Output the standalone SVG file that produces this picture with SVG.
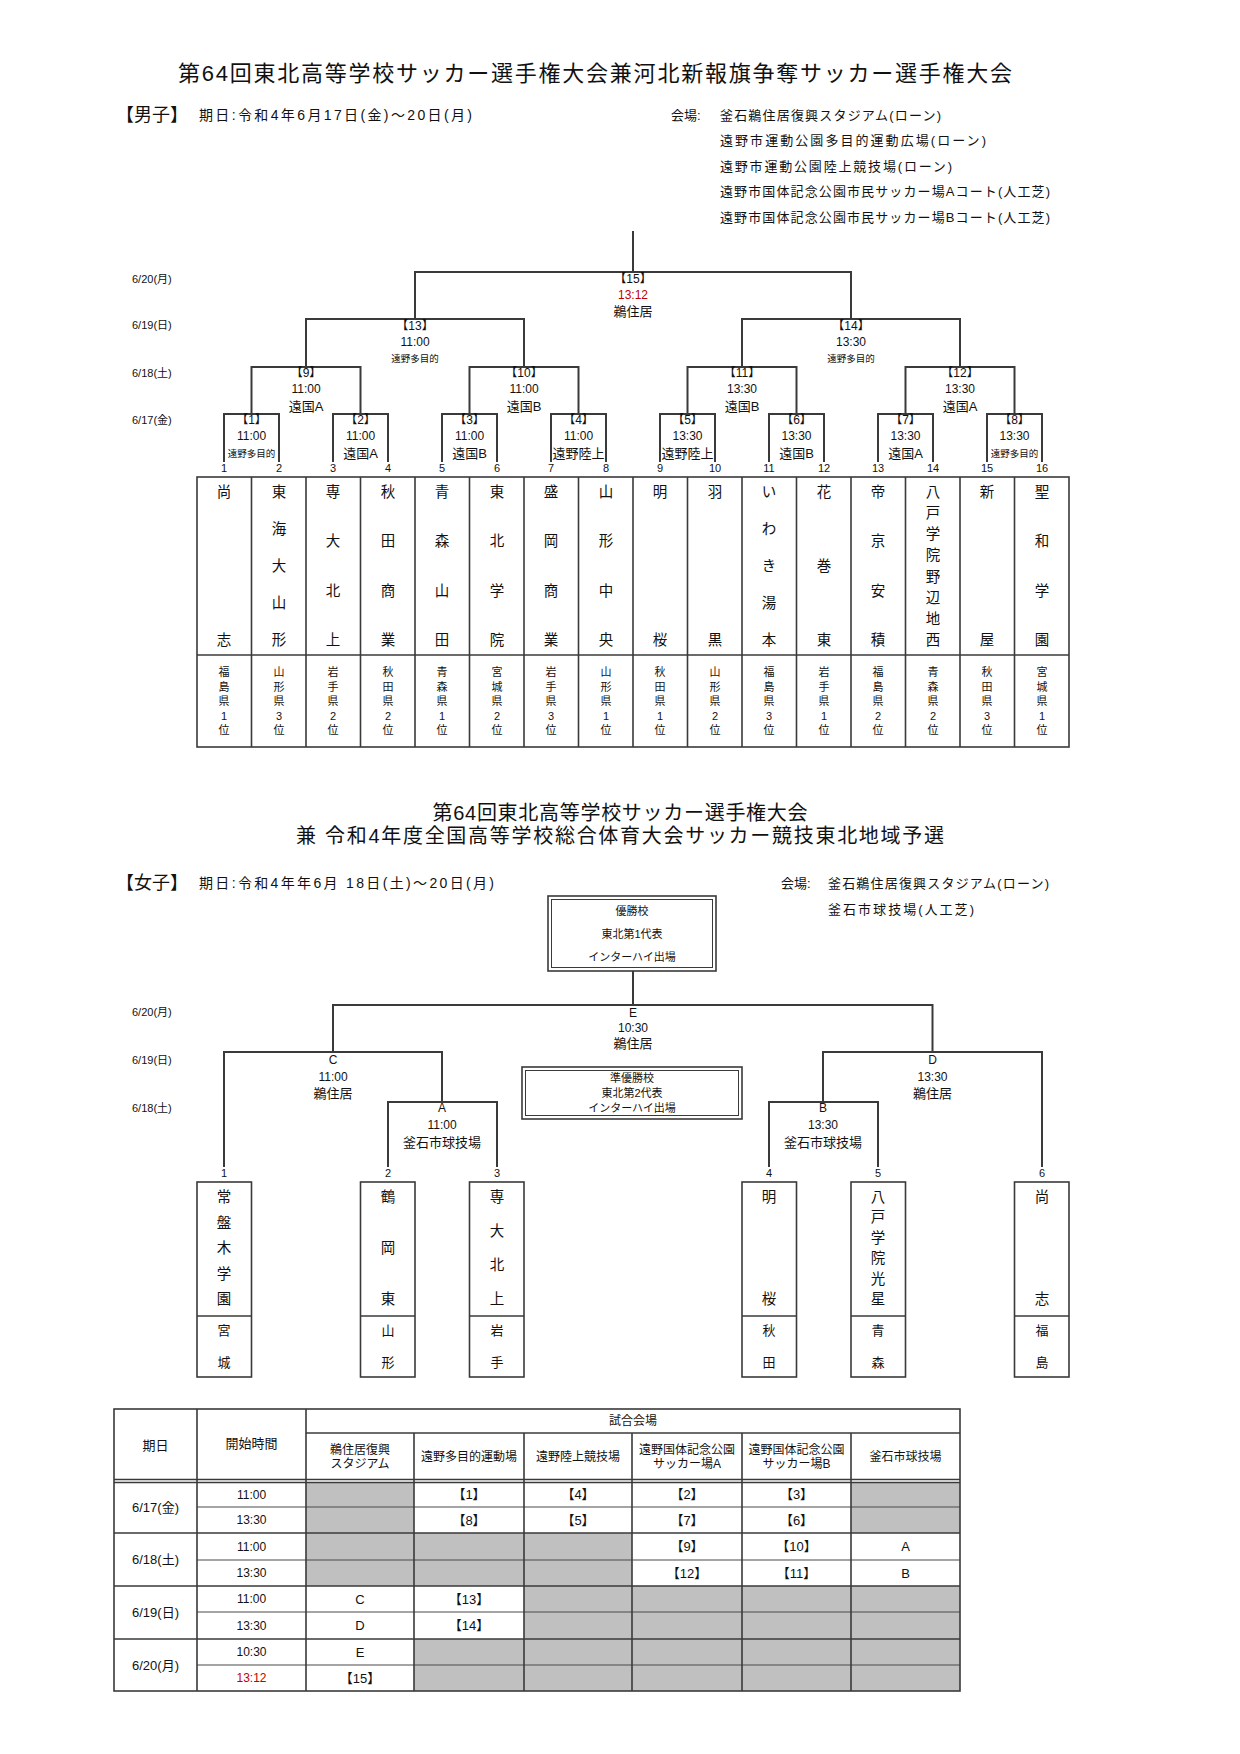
<svg xmlns="http://www.w3.org/2000/svg" width="1240" height="1754" viewBox="0 0 1240 1754">
<style>
text{font-family:"Liberation Sans","Noto Sans CJK JP",sans-serif;fill:#111;dominant-baseline:central}
.m{text-anchor:middle}
.f9{font-size:9.5px}
.f11{font-size:11px}
.f12{font-size:12px}
.f13{font-size:13px}
.f14{font-size:14px}
.tn{font-size:14.5px;text-anchor:middle}
.pf{font-size:11px;text-anchor:middle}
.red{fill:#c00000}
.ln{fill:none;stroke:#3a3a3a;stroke-width:2}
.bd{fill:none;stroke:#3a3a3a;stroke-width:1.6}
.th{fill:none;stroke:#4a4a4a;stroke-width:1.2}
.gy{fill:#c0c0c0}
</style>
<rect width="1240" height="1754" fill="#fff"/>

<!-- Men's header -->
<g id="header-men">
<text x="178" y="73" style="font-size:22px" textLength="834">第64回東北高等学校サッカー選手権大会兼河北新報旗争奪サッカー選手権大会</text>
<text x="116" y="115" style="font-size:18px">【男子】</text>
<text x="199" y="115" class="f14" textLength="273">期日:令和4年6月17日(金)～20日(月)</text>
<text x="671" y="115" class="f13">会場:</text>
<text x="720" y="115" class="f13" textLength="221">釜石鵜住居復興スタジアム(ローン)</text>
<text x="720" y="140.5" class="f13" textLength="266">遠野市運動公園多目的運動広場(ローン)</text>
<text x="720" y="166" class="f13" textLength="232">遠野市運動公園陸上競技場(ローン)</text>
<text x="720" y="191.5" class="f13" textLength="330">遠野市国体記念公園市民サッカー場Aコート(人工芝)</text>
<text x="720" y="217" class="f13" textLength="330">遠野市国体記念公園市民サッカー場Bコート(人工芝)</text>
</g>

<g id="dates-men" class="f11">
<text x="132" y="279">6/20(月)</text>
<text x="132" y="325">6/19(日)</text>
<text x="132" y="373">6/18(土)</text>
<text x="132" y="420">6/17(金)</text>
</g>

<!-- Men's connectors -->
<g id="connectors-men" class="ln">
<path d="M633 231V272"/>
<path d="M415 319V272H851V319"/>
<path d="M306 367V319H524V367"/>
<path d="M742 367V319H960V367"/>
<path d="M251.5 414V367H360.5V414"/>
<path d="M469.5 414V367H578.5V414"/>
<path d="M687.5 414V367H796.5V414"/>
<path d="M905.5 414V367H1014.5V414"/>
<path d="M224 462V414H279V462"/>
<path d="M333 462V414H388V462"/>
<path d="M442 462V414H497V462"/>
<path d="M551 462V414H606V462"/>
<path d="M660 462V414H715V462"/>
<path d="M769 462V414H824V462"/>
<path d="M878 462V414H933V462"/>
<path d="M987 462V414H1042V462"/>
</g>

<!-- Men's matches -->
<g id="match-15" class="m"><text x="633" y="279" class="f12">【15】</text><text x="633" y="295" class="f12 red">13:12</text><text x="633" y="311" class="f13">鵜住居</text></g>
<g id="match-13" class="m"><text x="415" y="326" class="f12">【13】</text><text x="415" y="342" class="f12">11:00</text><text x="415" y="358" class="f9">遠野多目的</text></g>
<g id="match-14" class="m"><text x="851" y="326" class="f12">【14】</text><text x="851" y="342" class="f12">13:30</text><text x="851" y="358" class="f9">遠野多目的</text></g>
<g id="match-9" class="m"><text x="306" y="373" class="f12">【9】</text><text x="306" y="389" class="f12">11:00</text><text x="306" y="406" class="f13">遠国A</text></g>
<g id="match-10" class="m"><text x="524" y="373" class="f12">【10】</text><text x="524" y="389" class="f12">11:00</text><text x="524" y="406" class="f13">遠国B</text></g>
<g id="match-11" class="m"><text x="742" y="373" class="f12">【11】</text><text x="742" y="389" class="f12">13:30</text><text x="742" y="406" class="f13">遠国B</text></g>
<g id="match-12" class="m"><text x="960" y="373" class="f12">【12】</text><text x="960" y="389" class="f12">13:30</text><text x="960" y="406" class="f13">遠国A</text></g>
<g id="match-1" class="m"><text x="251.5" y="420" class="f12">【1】</text><text x="251.5" y="436" class="f12">11:00</text><text x="251.5" y="453" class="f9">遠野多目的</text></g>
<g id="match-2" class="m"><text x="360.5" y="420" class="f12">【2】</text><text x="360.5" y="436" class="f12">11:00</text><text x="360.5" y="453" class="f13">遠国A</text></g>
<g id="match-3" class="m"><text x="469.5" y="420" class="f12">【3】</text><text x="469.5" y="436" class="f12">11:00</text><text x="469.5" y="453" class="f13">遠国B</text></g>
<g id="match-4" class="m"><text x="578.5" y="420" class="f12">【4】</text><text x="578.5" y="436" class="f12">11:00</text><text x="578.5" y="453" class="f13">遠野陸上</text></g>
<g id="match-5" class="m"><text x="687.5" y="420" class="f12">【5】</text><text x="687.5" y="436" class="f12">13:30</text><text x="687.5" y="453" class="f13">遠野陸上</text></g>
<g id="match-6" class="m"><text x="796.5" y="420" class="f12">【6】</text><text x="796.5" y="436" class="f12">13:30</text><text x="796.5" y="453" class="f13">遠国B</text></g>
<g id="match-7" class="m"><text x="905.5" y="420" class="f12">【7】</text><text x="905.5" y="436" class="f12">13:30</text><text x="905.5" y="453" class="f13">遠国A</text></g>
<g id="match-8" class="m"><text x="1014.5" y="420" class="f12">【8】</text><text x="1014.5" y="436" class="f12">13:30</text><text x="1014.5" y="453" class="f9">遠野多目的</text></g>

<!-- Men's slot numbers -->
<g id="slots-men" class="m f11">
<text x="224" y="468">1</text><text x="279" y="468">2</text><text x="333" y="468">3</text><text x="388" y="468">4</text>
<text x="442" y="468">5</text><text x="497" y="468">6</text><text x="551" y="468">7</text><text x="606" y="468">8</text>
<text x="660" y="468">9</text><text x="715" y="468">10</text><text x="769" y="468">11</text><text x="824" y="468">12</text>
<text x="878" y="468">13</text><text x="933" y="468">14</text><text x="987" y="468">15</text><text x="1042" y="468">16</text>
</g>

<!-- Men's team table grid -->
<g id="team-grid-men" class="bd">
<rect x="197" y="477" width="872" height="270"/>
<path d="M197 655H1069"/>
<path d="M251.5 477V747M306 477V747M360.5 477V747M415 477V747M469.5 477V747M524 477V747M578.5 477V747M633 477V747M687.5 477V747M742 477V747M796.5 477V747M851 477V747M905.5 477V747M960 477V747M1014.5 477V747"/>
</g>

<g id="team-m1"><text class="tn"><tspan x="224" y="492">尚</tspan><tspan x="224" y="640">志</tspan></text><text class="pf"><tspan x="224" y="672">福</tspan><tspan x="224" y="686.5">島</tspan><tspan x="224" y="701">県</tspan><tspan x="224" y="715.5">1</tspan><tspan x="224" y="730">位</tspan></text></g>
<g id="team-m2"><text class="tn"><tspan x="279" y="492">東</tspan><tspan x="279" y="529">海</tspan><tspan x="279" y="566">大</tspan><tspan x="279" y="603">山</tspan><tspan x="279" y="640">形</tspan></text><text class="pf"><tspan x="279" y="672">山</tspan><tspan x="279" y="686.5">形</tspan><tspan x="279" y="701">県</tspan><tspan x="279" y="715.5">3</tspan><tspan x="279" y="730">位</tspan></text></g>
<g id="team-m3"><text class="tn"><tspan x="333" y="492">専</tspan><tspan x="333" y="541.3">大</tspan><tspan x="333" y="590.7">北</tspan><tspan x="333" y="640">上</tspan></text><text class="pf"><tspan x="333" y="672">岩</tspan><tspan x="333" y="686.5">手</tspan><tspan x="333" y="701">県</tspan><tspan x="333" y="715.5">2</tspan><tspan x="333" y="730">位</tspan></text></g>
<g id="team-m4"><text class="tn"><tspan x="388" y="492">秋</tspan><tspan x="388" y="541.3">田</tspan><tspan x="388" y="590.7">商</tspan><tspan x="388" y="640">業</tspan></text><text class="pf"><tspan x="388" y="672">秋</tspan><tspan x="388" y="686.5">田</tspan><tspan x="388" y="701">県</tspan><tspan x="388" y="715.5">2</tspan><tspan x="388" y="730">位</tspan></text></g>
<g id="team-m5"><text class="tn"><tspan x="442" y="492">青</tspan><tspan x="442" y="541.3">森</tspan><tspan x="442" y="590.7">山</tspan><tspan x="442" y="640">田</tspan></text><text class="pf"><tspan x="442" y="672">青</tspan><tspan x="442" y="686.5">森</tspan><tspan x="442" y="701">県</tspan><tspan x="442" y="715.5">1</tspan><tspan x="442" y="730">位</tspan></text></g>
<g id="team-m6"><text class="tn"><tspan x="497" y="492">東</tspan><tspan x="497" y="541.3">北</tspan><tspan x="497" y="590.7">学</tspan><tspan x="497" y="640">院</tspan></text><text class="pf"><tspan x="497" y="672">宮</tspan><tspan x="497" y="686.5">城</tspan><tspan x="497" y="701">県</tspan><tspan x="497" y="715.5">2</tspan><tspan x="497" y="730">位</tspan></text></g>
<g id="team-m7"><text class="tn"><tspan x="551" y="492">盛</tspan><tspan x="551" y="541.3">岡</tspan><tspan x="551" y="590.7">商</tspan><tspan x="551" y="640">業</tspan></text><text class="pf"><tspan x="551" y="672">岩</tspan><tspan x="551" y="686.5">手</tspan><tspan x="551" y="701">県</tspan><tspan x="551" y="715.5">3</tspan><tspan x="551" y="730">位</tspan></text></g>
<g id="team-m8"><text class="tn"><tspan x="606" y="492">山</tspan><tspan x="606" y="541.3">形</tspan><tspan x="606" y="590.7">中</tspan><tspan x="606" y="640">央</tspan></text><text class="pf"><tspan x="606" y="672">山</tspan><tspan x="606" y="686.5">形</tspan><tspan x="606" y="701">県</tspan><tspan x="606" y="715.5">1</tspan><tspan x="606" y="730">位</tspan></text></g>
<g id="team-m9"><text class="tn"><tspan x="660" y="492">明</tspan><tspan x="660" y="640">桜</tspan></text><text class="pf"><tspan x="660" y="672">秋</tspan><tspan x="660" y="686.5">田</tspan><tspan x="660" y="701">県</tspan><tspan x="660" y="715.5">1</tspan><tspan x="660" y="730">位</tspan></text></g>
<g id="team-m10"><text class="tn"><tspan x="715" y="492">羽</tspan><tspan x="715" y="640">黒</tspan></text><text class="pf"><tspan x="715" y="672">山</tspan><tspan x="715" y="686.5">形</tspan><tspan x="715" y="701">県</tspan><tspan x="715" y="715.5">2</tspan><tspan x="715" y="730">位</tspan></text></g>
<g id="team-m11"><text class="tn"><tspan x="769" y="492">い</tspan><tspan x="769" y="529">わ</tspan><tspan x="769" y="566">き</tspan><tspan x="769" y="603">湯</tspan><tspan x="769" y="640">本</tspan></text><text class="pf"><tspan x="769" y="672">福</tspan><tspan x="769" y="686.5">島</tspan><tspan x="769" y="701">県</tspan><tspan x="769" y="715.5">3</tspan><tspan x="769" y="730">位</tspan></text></g>
<g id="team-m12"><text class="tn"><tspan x="824" y="492">花</tspan><tspan x="824" y="566">巻</tspan><tspan x="824" y="640">東</tspan></text><text class="pf"><tspan x="824" y="672">岩</tspan><tspan x="824" y="686.5">手</tspan><tspan x="824" y="701">県</tspan><tspan x="824" y="715.5">1</tspan><tspan x="824" y="730">位</tspan></text></g>
<g id="team-m13"><text class="tn"><tspan x="878" y="492">帝</tspan><tspan x="878" y="541.3">京</tspan><tspan x="878" y="590.7">安</tspan><tspan x="878" y="640">積</tspan></text><text class="pf"><tspan x="878" y="672">福</tspan><tspan x="878" y="686.5">島</tspan><tspan x="878" y="701">県</tspan><tspan x="878" y="715.5">2</tspan><tspan x="878" y="730">位</tspan></text></g>
<g id="team-m14"><text class="tn"><tspan x="933" y="492">八</tspan><tspan x="933" y="513.1">戸</tspan><tspan x="933" y="534.3">学</tspan><tspan x="933" y="555.4">院</tspan><tspan x="933" y="576.6">野</tspan><tspan x="933" y="597.7">辺</tspan><tspan x="933" y="618.9">地</tspan><tspan x="933" y="640">西</tspan></text><text class="pf"><tspan x="933" y="672">青</tspan><tspan x="933" y="686.5">森</tspan><tspan x="933" y="701">県</tspan><tspan x="933" y="715.5">2</tspan><tspan x="933" y="730">位</tspan></text></g>
<g id="team-m15"><text class="tn"><tspan x="987" y="492">新</tspan><tspan x="987" y="640">屋</tspan></text><text class="pf"><tspan x="987" y="672">秋</tspan><tspan x="987" y="686.5">田</tspan><tspan x="987" y="701">県</tspan><tspan x="987" y="715.5">3</tspan><tspan x="987" y="730">位</tspan></text></g>
<g id="team-m16"><text class="tn"><tspan x="1042" y="492">聖</tspan><tspan x="1042" y="541.3">和</tspan><tspan x="1042" y="590.7">学</tspan><tspan x="1042" y="640">園</tspan></text><text class="pf"><tspan x="1042" y="672">宮</tspan><tspan x="1042" y="686.5">城</tspan><tspan x="1042" y="701">県</tspan><tspan x="1042" y="715.5">1</tspan><tspan x="1042" y="730">位</tspan></text></g>

<!-- Women's header -->
<g id="header-women">
<text x="620" y="813" class="m" style="font-size:20px" textLength="375">第64回東北高等学校サッカー選手権大会</text>
<text x="620" y="836" class="m" style="font-size:20px" textLength="648">兼 令和4年度全国高等学校総合体育大会サッカー競技東北地域予選</text>
<text x="116" y="883" style="font-size:18px">【女子】</text>
<text x="199" y="883" class="f14" textLength="295">期日:令和4年年6月 18日(土)～20日(月)</text>
<text x="781" y="883" class="f13">会場:</text>
<text x="828" y="883" class="f13" textLength="221">釜石鵜住居復興スタジアム(ローン)</text>
<text x="828" y="909" class="f13" textLength="146">釜石市球技場(人工芝)</text>
</g>

<g id="winner-box">
<rect x="548" y="896" width="168" height="75" class="bd"/>
<rect x="551.5" y="899.5" width="161" height="68" fill="none" stroke="#3a3a3a" stroke-width="1"/>
<text x="632" y="911" class="m f11">優勝校</text>
<text x="632" y="934" class="m f11">東北第1代表</text>
<text x="632" y="957" class="m f11">インターハイ出場</text>
</g>

<g id="runnerup-box">
<rect x="522" y="1067" width="220" height="52" class="bd"/>
<rect x="525.5" y="1070.5" width="213" height="45" fill="none" stroke="#3a3a3a" stroke-width="1"/>
<text x="632" y="1078" class="m f11">準優勝校</text>
<text x="632" y="1093" class="m f11">東北第2代表</text>
<text x="632" y="1108" class="m f11">インターハイ出場</text>
</g>

<g id="dates-women" class="f11">
<text x="132" y="1012">6/20(月)</text>
<text x="132" y="1060">6/19(日)</text>
<text x="132" y="1108">6/18(土)</text>
</g>

<g id="connectors-women" class="ln">
<path d="M633 971V1005"/>
<path d="M333 1052V1005H932.5V1052"/>
<path d="M224 1167V1052H442V1102"/>
<path d="M388 1167V1102H497V1167"/>
<path d="M823 1102V1052H1042V1167"/>
<path d="M769 1167V1102H878V1167"/>
</g>

<g id="match-E" class="m"><text x="633" y="1013" class="f12">E</text><text x="633" y="1028" class="f12">10:30</text><text x="633" y="1043" class="f13">鵜住居</text></g>
<g id="match-C" class="m"><text x="333" y="1060" class="f12">C</text><text x="333" y="1077" class="f12">11:00</text><text x="333" y="1093" class="f13">鵜住居</text></g>
<g id="match-D" class="m"><text x="932.5" y="1060" class="f12">D</text><text x="932.5" y="1077" class="f12">13:30</text><text x="932.5" y="1093" class="f13">鵜住居</text></g>
<g id="match-A" class="m"><text x="442" y="1108" class="f12">A</text><text x="442" y="1125" class="f12">11:00</text><text x="442" y="1142" class="f13">釜石市球技場</text></g>
<g id="match-B" class="m"><text x="823" y="1108" class="f12">B</text><text x="823" y="1125" class="f12">13:30</text><text x="823" y="1142" class="f13">釜石市球技場</text></g>

<g id="slots-women" class="m f11">
<text x="224" y="1173">1</text><text x="388" y="1173">2</text><text x="497" y="1173">3</text>
<text x="769" y="1173">4</text><text x="878" y="1173">5</text><text x="1042" y="1173">6</text>
</g>

<g id="team-w1"><rect x="197" y="1182" width="54.5" height="195" class="bd"/><path d="M197 1316H251.5" class="bd"/><text class="tn"><tspan x="224" y="1197">常</tspan><tspan x="224" y="1222.5">盤</tspan><tspan x="224" y="1248">木</tspan><tspan x="224" y="1273.5">学</tspan><tspan x="224" y="1299">園</tspan></text><text class="tn" style="font-size:13px"><tspan x="224" y="1330">宮</tspan><tspan x="224" y="1362">城</tspan></text></g>
<g id="team-w2"><rect x="360.5" y="1182" width="54.5" height="195" class="bd"/><path d="M360.5 1316H415" class="bd"/><text class="tn"><tspan x="388" y="1197">鶴</tspan><tspan x="388" y="1248">岡</tspan><tspan x="388" y="1299">東</tspan></text><text class="tn" style="font-size:13px"><tspan x="388" y="1330">山</tspan><tspan x="388" y="1362">形</tspan></text></g>
<g id="team-w3"><rect x="469.5" y="1182" width="54.5" height="195" class="bd"/><path d="M469.5 1316H524" class="bd"/><text class="tn"><tspan x="497" y="1197">専</tspan><tspan x="497" y="1231">大</tspan><tspan x="497" y="1265">北</tspan><tspan x="497" y="1299">上</tspan></text><text class="tn" style="font-size:13px"><tspan x="497" y="1330">岩</tspan><tspan x="497" y="1362">手</tspan></text></g>
<g id="team-w4"><rect x="742" y="1182" width="54.5" height="195" class="bd"/><path d="M742 1316H796.5" class="bd"/><text class="tn"><tspan x="769" y="1197">明</tspan><tspan x="769" y="1299">桜</tspan></text><text class="tn" style="font-size:13px"><tspan x="769" y="1330">秋</tspan><tspan x="769" y="1362">田</tspan></text></g>
<g id="team-w5"><rect x="851" y="1182" width="54.5" height="195" class="bd"/><path d="M851 1316H905.5" class="bd"/><text class="tn"><tspan x="878" y="1197">八</tspan><tspan x="878" y="1217.4">戸</tspan><tspan x="878" y="1237.8">学</tspan><tspan x="878" y="1258.2">院</tspan><tspan x="878" y="1278.6">光</tspan><tspan x="878" y="1299">星</tspan></text><text class="tn" style="font-size:13px"><tspan x="878" y="1330">青</tspan><tspan x="878" y="1362">森</tspan></text></g>
<g id="team-w6"><rect x="1014.5" y="1182" width="54.5" height="195" class="bd"/><path d="M1014.5 1316H1069" class="bd"/><text class="tn"><tspan x="1042" y="1197">尚</tspan><tspan x="1042" y="1299">志</tspan></text><text class="tn" style="font-size:13px"><tspan x="1042" y="1330">福</tspan><tspan x="1042" y="1362">島</tspan></text></g>

<!-- Schedule table -->
<g id="schedule-table">
<g class="gy">
<rect x="306" y="1482" width="108" height="104"/>
<rect x="414" y="1533" width="110" height="53"/>
<rect x="524" y="1533" width="108" height="53"/>
<rect x="851" y="1482" width="109" height="51"/>
<rect x="524" y="1586" width="436" height="53"/>
<rect x="414" y="1639" width="546" height="52"/>
</g>
<g class="th">
<path d="M197 1507H960M197 1560H960M197 1612H960M197 1665H960"/>
</g>
<g class="bd">
<rect x="114" y="1409" width="846" height="282"/>
<path d="M197 1409V1691M306 1409V1691"/>
<path d="M414 1433V1691M524 1433V1691M632 1433V1691M742 1433V1691M851 1433V1691"/>
<path d="M306 1433H960"/>
<path d="M114 1479.5H960M114 1482.5H960"/>
<path d="M114 1533H960M114 1586H960M114 1639H960"/>
</g>
<text x="633" y="1421" class="m f12">試合会場</text>
<text x="155.5" y="1445" class="m f13">期日</text>
<text x="251.5" y="1443" class="m f13">開始時間</text>
<text x="360" y="1450" class="m f12">鵜住居復興</text>
<text x="360" y="1464" class="m f12">スタジアム</text>
<text x="469" y="1457" class="m f12">遠野多目的運動場</text>
<text x="578" y="1457" class="m f12">遠野陸上競技場</text>
<text x="687" y="1450" class="m f12">遠野国体記念公園</text>
<text x="687" y="1464" class="m f12">サッカー場A</text>
<text x="796.5" y="1450" class="m f12">遠野国体記念公園</text>
<text x="796.5" y="1464" class="m f12">サッカー場B</text>
<text x="905.5" y="1457" class="m f12">釜石市球技場</text>

<g class="m f13">
<text x="155.5" y="1507">6/17(金)</text>
<text x="155.5" y="1559.5">6/18(土)</text>
<text x="155.5" y="1612">6/19(日)</text>
<text x="155.5" y="1665">6/20(月)</text>
</g>
<g class="m f12">
<text x="251.5" y="1494.5">11:00</text>
<text x="251.5" y="1520">13:30</text>
<text x="251.5" y="1546.5">11:00</text>
<text x="251.5" y="1573">13:30</text>
<text x="251.5" y="1599">11:00</text>
<text x="251.5" y="1625.5">13:30</text>
<text x="251.5" y="1652">10:30</text>
<text x="251.5" y="1678" class="red">13:12</text>
</g>
<g class="m f13">
<text x="469" y="1494.5">【1】</text><text x="578" y="1494.5">【4】</text><text x="687" y="1494.5">【2】</text><text x="796.5" y="1494.5">【3】</text>
<text x="469" y="1520">【8】</text><text x="578" y="1520">【5】</text><text x="687" y="1520">【7】</text><text x="796.5" y="1520">【6】</text>
<text x="687" y="1546.5">【9】</text><text x="796.5" y="1546.5">【10】</text><text x="905.5" y="1546.5">A</text>
<text x="687" y="1573">【12】</text><text x="796.5" y="1573">【11】</text><text x="905.5" y="1573">B</text>
<text x="360" y="1599">C</text><text x="469" y="1599">【13】</text>
<text x="360" y="1625.5">D</text><text x="469" y="1625.5">【14】</text>
<text x="360" y="1652">E</text>
<text x="360" y="1678">【15】</text>
</g>
</g>
</svg>
